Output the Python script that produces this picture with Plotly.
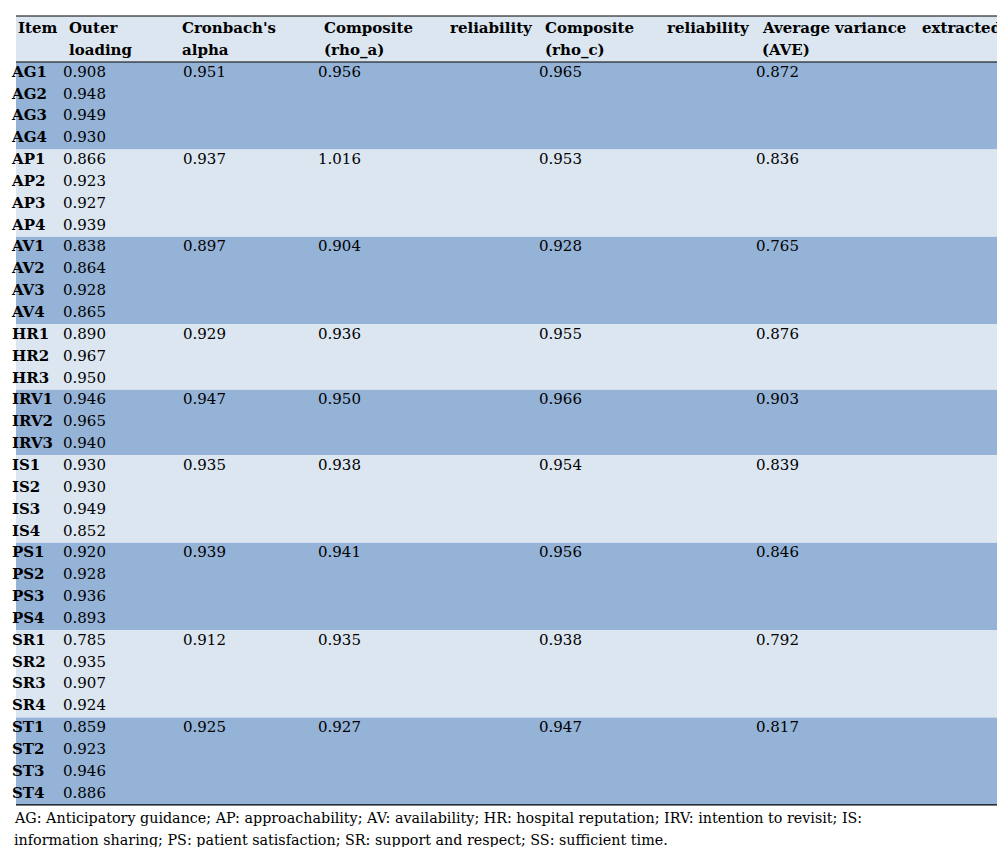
import plotly.graph_objects as go

items = ["AG1", "AG2", "AG3", "AG4", "AP1", "AP2", "AP3", "AP4", "AV1", "AV2", "AV3", "AV4",
         "HR1", "HR2", "HR3", "IRV1", "IRV2", "IRV3", "IS1", "IS2", "IS3", "IS4",
         "PS1", "PS2", "PS3", "PS4", "SR1", "SR2", "SR3", "SR4", "ST1", "ST2", "ST3", "ST4"]
loadings = ["0.908", "0.948", "0.949", "0.930", "0.866", "0.923", "0.927", "0.939",
            "0.838", "0.864", "0.928", "0.865", "0.890", "0.967", "0.950",
            "0.946", "0.965", "0.940", "0.930", "0.930", "0.949", "0.852",
            "0.920", "0.928", "0.936", "0.893", "0.785", "0.935", "0.907", "0.924",
            "0.859", "0.923", "0.946", "0.886"]
group_sizes = [4, 4, 4, 3, 3, 4, 4, 4, 4]
alpha = ["0.951", "0.937", "0.897", "0.929", "0.947", "0.935", "0.939", "0.912", "0.925"]
rho_a = ["0.956", "1.016", "0.904", "0.936", "0.950", "0.938", "0.941", "0.935", "0.927"]
rho_c = ["0.965", "0.953", "0.928", "0.955", "0.966", "0.954", "0.956", "0.938", "0.947"]
ave = ["0.872", "0.836", "0.765", "0.876", "0.903", "0.839", "0.846", "0.792", "0.817"]
caption = [
    "AG: Anticipatory guidance; AP: approachability; AV: availability; HR: hospital reputation; IRV: intention to revisit; IS:",
    "information sharing; PS: patient satisfaction; SR: support and respect; SS: sufficient time.",
]

dark, light = "#95b3d7", "#dce6f1"
font = "DejaVu Serif"
fs = 15
left, right = 8, 998
col_x = [8, 59, 172, 314, 535, 752]
top, head_bot = 8, 54
row_h = 21.85

fig = go.Figure()
fig.update_xaxes(range=[0, 1005], visible=False, fixedrange=True)
fig.update_yaxes(range=[847, 0], visible=False, fixedrange=True)

# header band
fig.add_shape(type="rect", x0=left, x1=right, y0=top, y1=head_bot, fillcolor=light, line_width=0, layer="below")

# group bands
start = 0
group_rows = []
for g, n in enumerate(group_sizes):
    y0 = head_bot + start * row_h
    fig.add_shape(type="rect", x0=left, x1=right, y0=y0, y1=y0 + n * row_h,
                  fillcolor=dark if g % 2 == 0 else light, line_width=0, layer="below")
    group_rows.append(start)
    start += n
end_y = head_bot + start * row_h

for y in [top, head_bot, end_y]:
    fig.add_shape(type="line", x0=left, x1=right, y0=y, y1=y, line=dict(color="black", width=1.2))

def text_col(x, ys, texts, bold=False):
    if bold:
        texts = ["<b>%s</b>" % t for t in texts]
    fig.add_trace(go.Scatter(x=[x] * len(ys), y=ys, text=texts, mode="text", textposition="middle right",
                             textfont=dict(family=font, size=fs, color="black"), hoverinfo="skip",
                             showlegend=False))

row_y = [head_bot + row_h * (i + 0.5) for i in range(len(items))]
grp_y = [row_y[r] for r in group_rows]
text_col(col_x[0] - 4, row_y, items, bold=True)
text_col(col_x[1] - 4, row_y, loadings)
text_col(col_x[2] + 3, grp_y, alpha)
text_col(col_x[3] - 4, grp_y, rho_a)
text_col(col_x[4] - 4, grp_y, rho_c)
text_col(col_x[5] - 4, grp_y, ave)

# header text
h1, h2 = 20, 42
def head(x, y, t, anchor="left"):
    fig.add_annotation(x=x, y=y, text="<b>%s</b>" % t, showarrow=False, xanchor=anchor, yanchor="middle",
                       font=dict(family=font, size=fs, color="black"))

head(col_x[0], h1, "Item")
head(col_x[1], h1, "Outer")
head(col_x[1], h2, "loading")
head(col_x[2], h1, "Cronbach's")
head(col_x[2], h2, "alpha")
head(col_x[3], h1, "Composite")
head(col_x[4] - 8, h1, "reliability", "right")
head(col_x[3], h2, "(rho_a)")
head(col_x[4], h1, "Composite")
head(col_x[5] - 8, h1, "reliability", "right")
head(col_x[4], h2, "(rho_c)")
head(col_x[5], h1, "Average")
head(862, h1, "variance", "center")
head(right - 2, h1, "extracted", "right")
head(col_x[5], h2, "(AVE)")

for i, line in enumerate(caption):
    fig.add_annotation(text=line, x=left - 4, y=810 + 22 * i, xanchor="left", yanchor="middle", showarrow=False,
                       font=dict(family=font, size=14.3, color="black"))

fig.update_layout(width=1005, height=847, margin=dict(l=0, r=0, t=0, b=0),
                  paper_bgcolor="white", plot_bgcolor="white")
fig.write_html("out.html")
